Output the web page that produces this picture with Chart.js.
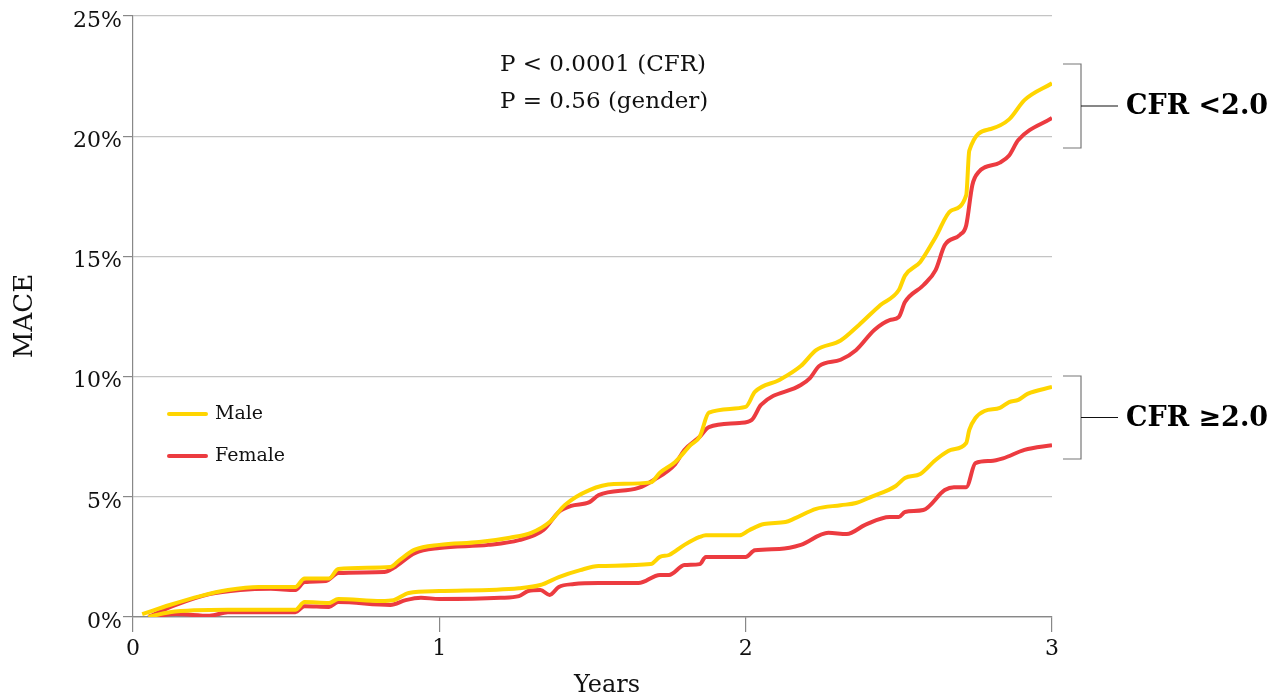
<!DOCTYPE html>
<html>
<head>
<meta charset="utf-8">
<script src="https://cdn.jsdelivr.net/npm/chart.js@4.4.1/dist/chart.umd.min.js"></script>
<style>
  html, body { margin: 0; padding: 0; background: #fff; }
  #wrap { width: 1282px; height: 700px; }
</style>
</head>
<body>
<div id="wrap"><canvas id="myChart" width="1282" height="700"></canvas></div>
<script>
// CFR < 2.0, male
const lowMaleYears = [0.03, 0.12, 0.22, 0.31, 0.41, 0.53, 0.56, 0.64, 0.67, 0.84, 0.87, 0.92, 1.0, 1.13, 1.23, 1.3, 1.36, 1.41, 1.49, 1.57, 1.69, 1.72, 1.77, 1.82, 1.85, 1.88, 2.0, 2.03, 2.11, 2.18, 2.23, 2.31, 2.37, 2.44, 2.5, 2.52, 2.57, 2.62, 2.67, 2.72, 2.73, 2.8, 2.86, 2.91, 3.0]
const lowMaleMace = [0.12, 0.5, 0.87, 1.12, 1.25, 1.25, 1.6, 1.6, 2.0, 2.08, 2.37, 2.8, 3.0, 3.12, 3.3, 3.5, 3.95, 4.66, 5.28, 5.53, 5.6, 6.0, 6.45, 7.15, 7.5, 8.5, 8.74, 9.36, 9.86, 10.44, 11.1, 11.5, 12.15, 12.98, 13.6, 14.2, 14.77, 15.8, 16.9, 17.55, 19.4, 20.3, 20.7, 21.5, 22.2]

// CFR < 2.0, female
const lowFemaleYears = [0.05, 0.14, 0.25, 0.35, 0.45, 0.53, 0.56, 0.63, 0.67, 0.82, 0.85, 0.92, 1.0, 1.16, 1.26, 1.34, 1.39, 1.43, 1.49, 1.52, 1.65, 1.7, 1.77, 1.8, 1.85, 1.88, 1.98, 2.02, 2.05, 2.18, 2.21, 2.24, 2.31, 2.36, 2.42, 2.47, 2.5, 2.52, 2.58, 2.62, 2.65, 2.7, 2.72, 2.74, 2.76, 2.83, 2.86, 2.89, 3.0]
const lowFemaleMace = [0.0, 0.5, 0.95, 1.12, 1.17, 1.12, 1.45, 1.5, 1.83, 1.87, 2.04, 2.66, 2.87, 3.0, 3.2, 3.62, 4.37, 4.62, 4.78, 5.07, 5.37, 5.7, 6.36, 6.95, 7.5, 7.9, 8.07, 8.2, 8.82, 9.65, 9.94, 10.44, 10.7, 11.1, 11.94, 12.35, 12.48, 13.1, 13.8, 14.43, 15.47, 15.9, 16.3, 17.97, 18.5, 18.9, 19.2, 19.84, 20.76]

// CFR >= 2.0, male
const highMaleYears = [0.05, 0.12, 0.31, 0.53, 0.56, 0.64, 0.67, 0.81, 0.85, 0.9, 1.0, 1.26, 1.33, 1.39, 1.46, 1.52, 1.69, 1.72, 1.75, 1.8, 1.85, 1.87, 1.98, 2.01, 2.06, 2.13, 2.16, 2.23, 2.31, 2.36, 2.41, 2.49, 2.52, 2.57, 2.62, 2.67, 2.72, 2.73, 2.75, 2.78, 2.83, 2.86, 2.89, 2.92, 3.0]
const highMaleMace = [0.0, 0.2, 0.3, 0.3, 0.62, 0.58, 0.75, 0.67, 0.7, 1.0, 1.08, 1.2, 1.33, 1.66, 1.95, 2.12, 2.2, 2.5, 2.58, 3.0, 3.33, 3.4, 3.4, 3.6, 3.87, 3.95, 4.1, 4.5, 4.65, 4.74, 5.0, 5.45, 5.78, 5.95, 6.53, 6.95, 7.24, 7.78, 8.28, 8.57, 8.7, 8.94, 9.03, 9.28, 9.57]

// CFR >= 2.0, female
const highFemaleYears = [0.05, 0.14, 0.25, 0.31, 0.53, 0.56, 0.64, 0.67, 0.84, 0.89, 0.94, 1.0, 1.2, 1.26, 1.29, 1.33, 1.36, 1.39, 1.44, 1.52, 1.65, 1.72, 1.75, 1.8, 1.85, 1.87, 2.0, 2.03, 2.11, 2.18, 2.27, 2.33, 2.39, 2.47, 2.5, 2.52, 2.58, 2.65, 2.68, 2.72, 2.75, 2.8, 2.84, 2.91, 3.0]
const highFemaleMace = [0.0, 0.12, 0.05, 0.2, 0.2, 0.45, 0.42, 0.62, 0.5, 0.7, 0.8, 0.75, 0.8, 0.87, 1.08, 1.12, 0.92, 1.25, 1.37, 1.41, 1.41, 1.75, 1.75, 2.16, 2.2, 2.5, 2.5, 2.78, 2.83, 3.0, 3.5, 3.45, 3.83, 4.16, 4.16, 4.37, 4.45, 5.28, 5.4, 5.4, 6.4, 6.49, 6.6, 6.95, 7.15]

const yTicks = [0, 5, 10, 15, 20, 25]
const xTicks = [0, 1, 2, 3]
const pValues = ['P < 0.0001 (CFR)', 'P = 0.56 (gender)']
const groupLabels = ['CFR <2.0', 'CFR \u22652.0']

const MALE = '#ffd500'
const FEMALE = '#ec3b40'
const SERIF = "'DejaVu Serif', 'Liberation Serif', serif"

function pts(xs, ys) {
  return xs.map((x, i) => ({ x: x, y: ys[i] }))
}

function line(label, color, xs, ys) {
  return {
    label: label,
    data: pts(xs, ys),
    borderColor: color,
    backgroundColor: color,
    borderWidth: 4,
    pointRadius: 0,
    cubicInterpolationMode: 'monotone',
    fill: false
  }
}

// texts, legend and brackets drawn on top
const extras = {
  id: 'extras',
  afterDraw(chart) {
    const c = chart.ctx
    const area = chart.chartArea
    c.save()
    c.fillStyle = '#111'

    // axis titles
    c.textAlign = 'center'
    c.textBaseline = 'middle'
    c.font = '24px ' + SERIF
    c.fillText('Years', 607, 686)
    c.save()
    c.translate(25, 316)
    c.rotate(-Math.PI / 2)
    c.font = '26px ' + SERIF
    c.fillText('MACE', 0, 0)
    c.restore()

    // p values
    c.font = '23px ' + SERIF
    c.textAlign = 'left'
    c.fillText(pValues[0], 500, 65)
    c.fillText(pValues[1], 500, 102)

    // legend
    const leg = [['Male', MALE, 414], ['Female', FEMALE, 456]]
    c.font = '19px ' + SERIF
    leg.forEach(([t, col, y]) => {
      c.strokeStyle = col
      c.lineWidth = 4
      c.lineCap = 'round'
      c.beginPath()
      c.moveTo(169, y)
      c.lineTo(206, y)
      c.stroke()
      c.fillStyle = '#111'
      c.fillText(t, 215, y)
    })

    // brackets
    const groups = [[groupLabels[0], 64, 148], [groupLabels[1], 376, 459]]
    groups.forEach(([t, y0, y1]) => {
      const mid = (y0 + y1) / 2
      c.lineCap = 'butt'
      c.strokeStyle = '#777'
      c.lineWidth = 1.2
      c.beginPath()
      c.moveTo(1063, y0)
      c.lineTo(1081, y0)
      c.lineTo(1081, y1)
      c.lineTo(1063, y1)
      c.stroke()
      c.strokeStyle = '#111'
      c.beginPath()
      c.moveTo(1081, mid)
      c.lineTo(1118, mid)
      c.stroke()
      c.font = 'bold 27px ' + SERIF
      c.fillStyle = '#000'
      c.fillText(t, 1126, mid + 1)
    })
    c.restore()
  }
}

const ctx = document.getElementById('myChart')

new Chart(ctx, {
  type: 'line',
  data: {
    datasets: [
      line('Male', MALE, lowMaleYears, lowMaleMace),
      line('Male', MALE, highMaleYears, highMaleMace),
      line('Female', FEMALE, lowFemaleYears, lowFemaleMace),
      line('Female', FEMALE, highFemaleYears, highFemaleMace)
    ]
  },
  options: {
    responsive: false,
    animation: false,
    layout: { padding: { top: 16, right: 230, left: 0, bottom: 0 } },
    plugins: {
      legend: { display: false },
      tooltip: { enabled: false }
    },
    scales: {
      x: {
        type: 'linear',
        min: 0,
        max: 3,
        afterFit: (s) => { s.height = 83 },
        afterBuildTicks: (s) => { s.ticks = xTicks.map(v => ({ value: v })) },
        border: { color: '#888', width: 1.2 },
        grid: { drawOnChartArea: false, drawTicks: true, tickLength: 15, tickColor: '#888', lineWidth: 1.2 },
        ticks: { color: '#111', font: { family: SERIF, size: 22 }, padding: 4 }
      },
      y: {
        min: 0,
        max: 25,
        afterFit: (s) => { s.width = 133 },
        afterBuildTicks: (s) => { s.ticks = yTicks.map(v => ({ value: v })) },
        border: { color: '#888', width: 1.2 },
        grid: {
          color: (c) => c.tick && c.tick.value === 0 ? '#888' : '#c4c4c4',
          lineWidth: 1.2,
          drawTicks: true,
          tickLength: 10,
          tickColor: '#888'
        },
        ticks: {
          color: '#111',
          font: { family: SERIF, size: 22 },
          padding: 1,
          labelOffset: 5,
          callback: (v) => v + '%'
        }
      }
    }
  },
  plugins: [extras]
})
</script>
</body>
</html>
